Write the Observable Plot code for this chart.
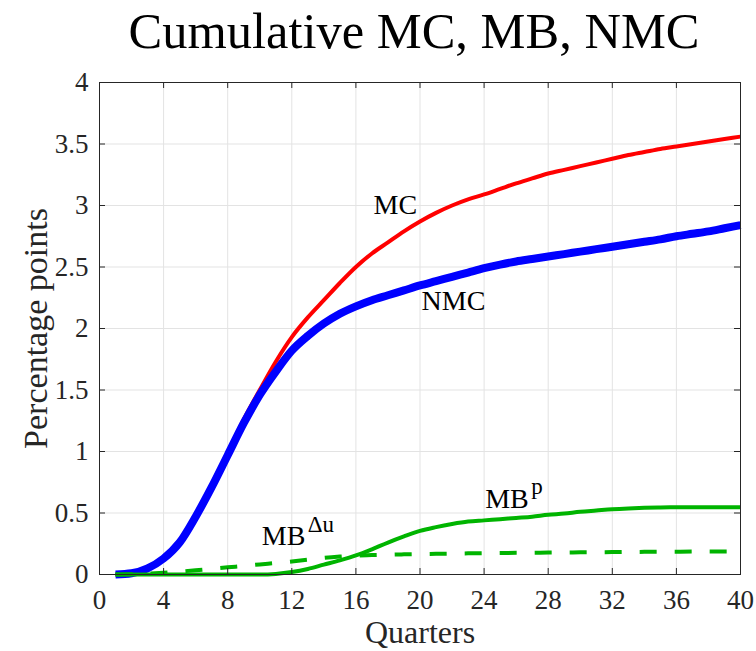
<!DOCTYPE html>
<html>
<head>
<meta charset="utf-8">
<script src="https://cdn.jsdelivr.net/npm/d3@7"></script>
<script src="https://cdn.jsdelivr.net/npm/@observablehq/plot@0.6"></script>
<style>
  body { margin: 0; background: #fff; }
  #title { height: 66px; box-sizing: border-box; padding: 6px 16px 0 88px; text-align: center;
           font-family: "Liberation Serif", "Times New Roman", serif; font-size: 50.5px; line-height: 1; color: #000; white-space: nowrap; }
</style>
</head>
<body>
<div id="title">Cumulative MC, MB, NMC</div>
<div id="chart"></div>
<script>
const quarters = d3.range(1, 41);
const MC = [0.00,0.01,0.05,0.13,0.27,0.48,0.73,0.99,1.26,1.50,
            1.73,1.93,2.09,2.23,2.37,2.50,2.61,2.70,2.79,2.87,
            2.94,3.00,3.05,3.09,3.135,3.18,3.22,3.26,3.29,3.32,
            3.35,3.38,3.41,3.435,3.46,3.48,3.50,3.52,3.54,3.56];
const NMC = [0.00,0.01,0.05,0.13,0.26,0.47,0.71,0.97,1.23,1.46,
             1.65,1.82,1.94,2.04,2.12,2.18,2.23,2.27,2.31,2.35,
             2.385,2.42,2.455,2.49,2.52,2.545,2.565,2.585,2.605,2.625,
             2.645,2.665,2.685,2.705,2.725,2.75,2.77,2.79,2.815,2.84];
const MBp = [0,0,0,0,0,0,0,0,0,0,
             0.005,0.02,0.045,0.08,0.115,0.155,0.205,0.26,0.31,0.355,
             0.385,0.41,0.43,0.44,0.45,0.46,0.47,0.485,0.495,0.51,
             0.52,0.53,0.537,0.542,0.545,0.546,0.546,0.546,0.546,0.546];
const MBdu = [0,0.003,0.008,0.015,0.024,0.034,0.046,0.058,0.07,0.082,
              0.094,0.106,0.12,0.135,0.146,0.154,0.158,0.161,0.164,0.166,
              0.168,0.17,0.172,0.174,0.175,0.176,0.177,0.178,0.179,0.18,
              0.181,0.182,0.183,0.184,0.185,0.185,0.186,0.186,0.187,0.187];
const xTicks = d3.range(0, 41, 4);
const yTicks = d3.range(0, 4.01, 0.5);
const xTitle = ["Quarters"];
const yTitle = ["Percentage points"];
const labels = [
  {text: "MC", x: 17.1, y: 3.0},
  {text: "NMC", x: 20.1, y: 2.22},
  {text: "MB", x: 24.07, y: 0.615},
  {text: "MB", x: 10.13, y: 0.309}
];
const supers = [
  {text: "p", x: 24.07, y: 0.615},
  {text: "Δu", x: 10.13, y: 0.309}
];

const rows = s => quarters.map((q, i) => ({q, v: s[i]}));
const W = 756, H = 585;
const mL = 99, mR = 16, mT = 16, mB = 77;
const pW = W - mL - mR, pH = H - mT - mB;
const ink = "#262626";
const serif = "Liberation Serif, Times New Roman, serif";

const chart = Plot.plot({
  width: W, height: H,
  marginLeft: mL, marginRight: mR, marginTop: mT, marginBottom: mB,
  style: {fontFamily: serif, fontSize: "27px", color: ink, background: "#fff"},
  x: {domain: [0, 40]},
  y: {domain: [0, 4]},
  marks: [
    Plot.ruleX(xTicks, {x: d => d, stroke: "#e3e3e3", strokeWidth: 1}),
    Plot.ruleY(yTicks, {y: d => d, stroke: "#e3e3e3", strokeWidth: 1}),
    Plot.line(rows(MC), {x: "q", y: "v", stroke: "#ff0000", strokeWidth: 4, curve: "monotone-x", strokeLinecap: "butt"}),
    Plot.line(rows(NMC), {x: "q", y: "v", stroke: "#0000ff", strokeWidth: 8, curve: "monotone-x", strokeLinecap: "butt"}),
    Plot.line(rows(MBdu), {x: "q", y: "v", stroke: "#00b400", strokeWidth: 4, strokeDasharray: "17,18", curve: "monotone-x", strokeLinecap: "butt"}),
    Plot.line(rows(MBp), {x: "q", y: "v", stroke: "#00b400", strokeWidth: 4, curve: "monotone-x", strokeLinecap: "butt"}),
    Plot.frame({stroke: ink, strokeWidth: 1}),
    Plot.tickX(xTicks, {x: d => d, insetTop: pH - 6, stroke: ink}),
    Plot.tickX(xTicks, {x: d => d, insetBottom: pH - 6, stroke: ink}),
    Plot.tickY(yTicks, {y: d => d, insetRight: pW - 6, stroke: ink}),
    Plot.tickY(yTicks, {y: d => d, insetLeft: pW - 6, stroke: ink}),
    Plot.axisX({ticks: xTicks, tickSize: 0, tickPadding: 15, fontSize: 27, tickFormat: d => String(d), label: null}),
    Plot.axisY({ticks: yTicks, tickSize: 0, tickPadding: 11, fontSize: 27, tickFormat: d => String(d), label: null}),
    Plot.text(xTitle, {text: d => d, frameAnchor: "bottom", lineAnchor: "middle", textAnchor: "middle", dy: 58, fontSize: 32, fill: ink}),
    Plot.text(yTitle, {text: d => d, frameAnchor: "left", lineAnchor: "middle", textAnchor: "middle", dx: -63, rotate: -90, fontSize: 34, fill: ink}),
    Plot.text(labels, {x: "x", y: "y", text: "text", textAnchor: "start", fontSize: 28, fill: "#000"}),
    Plot.text(supers, {x: "x", y: "y", text: "text", textAnchor: "start", dx: 46, dy: -12, fontSize: 23, fill: "#000"})
  ]
});
document.getElementById("chart").appendChild(chart);
</script>
</body>
</html>
